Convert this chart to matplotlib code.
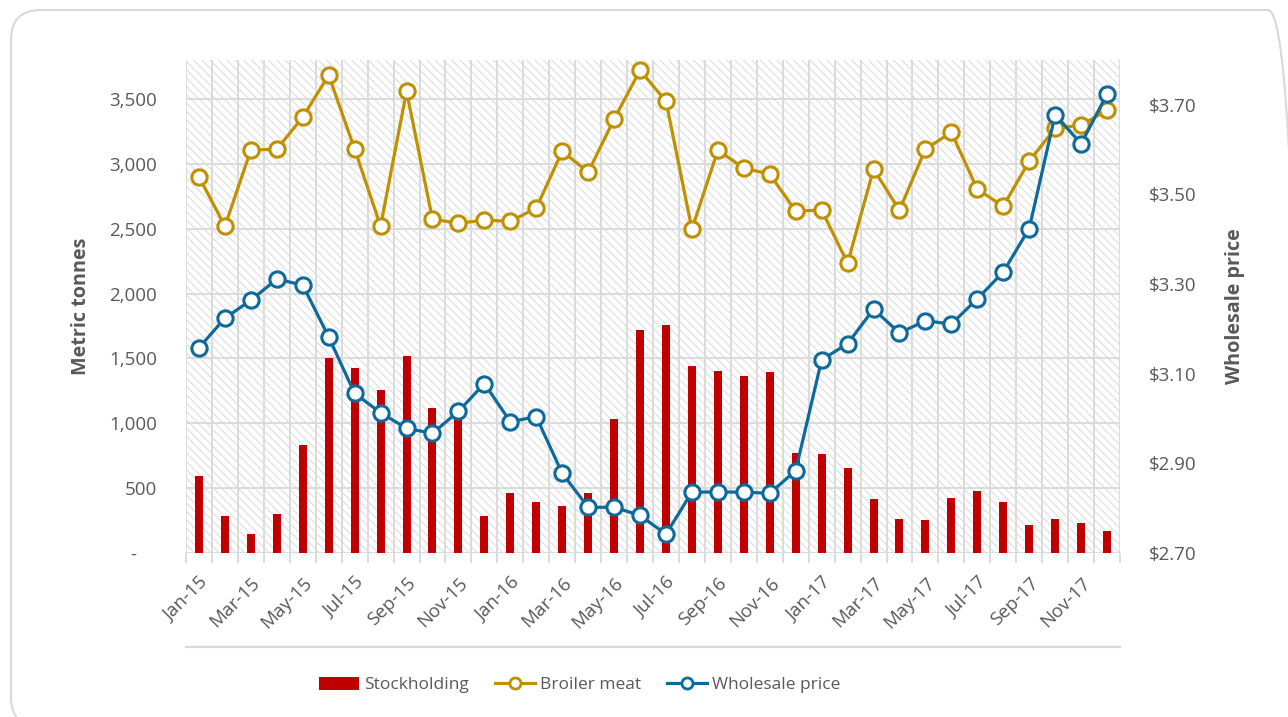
import matplotlib
matplotlib.use("Agg")
import matplotlib.pyplot as plt
import numpy as np
from matplotlib.patches import Rectangle, FancyBboxPatch, Patch
from matplotlib.lines import Line2D
from matplotlib.ticker import FuncFormatter, FixedLocator
from matplotlib.transforms import IdentityTransform

months = ["Jan-15", "Feb-15", "Mar-15", "Apr-15", "May-15", "Jun-15", "Jul-15", "Aug-15", "Sep-15", "Oct-15", "Nov-15", "Dec-15",
          "Jan-16", "Feb-16", "Mar-16", "Apr-16", "May-16", "Jun-16", "Jul-16", "Aug-16", "Sep-16", "Oct-16", "Nov-16", "Dec-16",
          "Jan-17", "Feb-17", "Mar-17", "Apr-17", "May-17", "Jun-17", "Jul-17", "Aug-17", "Sep-17", "Oct-17", "Nov-17", "Dec-17"]

stockholding = [590, 285, 144, 303, 832, 1500, 1423, 1253, 1518, 1120, 1080, 285,
                460, 393, 365, 460, 1032, 1718, 1754, 1441, 1405, 1364, 1392, 768,
                760, 653, 416, 260, 254, 424, 475, 395, 213, 260, 229, 172]

broiler_meat = [2900, 2519, 3105, 3113, 3359, 3683, 3113, 2519, 3559, 2573, 2542, 2565,
                2557, 2658, 3097, 2935, 3344, 3721, 3482, 2496, 3105, 2966, 2920, 2635,
                2643, 2234, 2958, 2643, 3113, 3243, 2804, 2673, 3020, 3274, 3297, 3413]

wholesale_price = [3.158, 3.224, 3.264, 3.311, 3.298, 3.182, 3.056, 3.013, 2.978, 2.967, 3.016, 3.078,
                   2.993, 3.004, 2.878, 2.802, 2.802, 2.784, 2.742, 2.836, 2.836, 2.836, 2.833, 2.884,
                   3.131, 3.167, 3.244, 3.191, 3.218, 3.211, 3.267, 3.327, 3.424, 3.678, 3.613, 3.724]

left_ticks = [0, 500, 1000, 1500, 2000, 2500, 3000, 3500]
right_ticks = [2.70, 2.90, 3.10, 3.30, 3.50, 3.70]

BAR_C = "#C00000"
GOLD = "#BF9000"
BLUE = "#0E6A9B"
GRID = "#D9D9D9"
TXT = "#595959"
FONT = "Open Sans"

plt.rcParams['font.family'] = [FONT, 'DejaVu Sans']
plt.rcParams['hatch.color'] = "#DADADA"
plt.rcParams['hatch.linewidth'] = 0.7

W, H = 1288, 717
fig = plt.figure(figsize=(W / 100, H / 100), dpi=100, facecolor="white")

# chart border (pixel coordinates, origin bottom-left)
bx0, bx1, by_top, by_bot = 11, 1298, 10, 727
border = FancyBboxPatch((bx0, H - by_bot), bx1 - bx0, by_bot - by_top,
                        boxstyle="round,pad=0,rounding_size=30",
                        transform=IdentityTransform(), facecolor="none", edgecolor="#D9D9D9",
                        linewidth=1.5, zorder=-5)
fig.add_artist(border)

left, right, top, bottom = 186, 1120, 60, 553
ax = fig.add_axes([left / W, 1 - bottom / H, (right - left) / W, (bottom - top) / H])
ax.set_facecolor("none")
ax.add_patch(Rectangle((0, 0), 1, 1, transform=ax.transAxes, facecolor="white",
                       edgecolor="#DADADA", hatch="\\\\\\\\", linewidth=0, zorder=0))

x = np.arange(len(months))
ax.bar(x, stockholding, width=0.31, color=BAR_C, zorder=3)
ax.set_xlim(-0.5, len(months) - 0.5)
ax.set_ylim(0, 3800)
ax.yaxis.set_major_locator(FixedLocator(left_ticks))
ax.yaxis.set_major_formatter(FuncFormatter(lambda v, p: "-    " if v == 0 else f"{int(v):,}"))
ax.grid(axis="y", color=GRID, linewidth=1.3, zorder=1)
ax.set_axisbelow(True)

ax.xaxis.set_major_locator(FixedLocator(x[::2]))
ax.set_xticklabels(months[::2], rotation=45, ha="right", rotation_mode="anchor")
ax.xaxis.set_minor_locator(FixedLocator(np.arange(-0.5, len(months), 1)))
ax.tick_params(axis="x", which="major", length=0, pad=15, labelsize=13.5, labelcolor=TXT)
ax.tick_params(axis="x", which="minor", length=7, color=GRID, width=1.3)
ax.grid(axis="x", which="minor", color=GRID, linewidth=1.3, zorder=1)
ax.tick_params(axis="y", length=0, pad=21, labelsize=13.5, labelcolor=TXT)
for s in ax.spines.values():
    s.set_visible(False)

ax.set_ylabel("Metric tonnes", fontsize=14.2, fontweight="bold", color=TXT, labelpad=13)

ax2 = ax.twinx()
ax2.plot(x, broiler_meat, color=GOLD, linewidth=2.3, marker="o", markersize=11,
         markerfacecolor="white", markeredgecolor=GOLD, markeredgewidth=2.2, zorder=4,
         transform=ax.transData)
ax2.plot(x, wholesale_price, color=BLUE, linewidth=2.3, marker="o", markersize=11,
         markerfacecolor="white", markeredgecolor=BLUE, markeredgewidth=2.2, zorder=5)
ax2.set_ylim(2.70, 3.80)
ax2.yaxis.set_major_locator(FixedLocator(right_ticks))
ax2.yaxis.set_major_formatter(FuncFormatter(lambda v, p: f"${v:.2f}"))
ax2.tick_params(axis="y", length=0, pad=21, labelsize=13.5, labelcolor=TXT)
for s in ax2.spines.values():
    s.set_visible(False)
ax2.set_ylabel("Wholesale price", fontsize=14.2, fontweight="bold", color=TXT, labelpad=20)

# horizontal rule below labels
fig.add_artist(Line2D([left / W, right / W], [1 - 647 / H, 1 - 647 / H],
                      transform=fig.transFigure, color=GRID, linewidth=1.6))

handles = [Patch(facecolor=BAR_C, edgecolor="none"),
           Line2D([0], [0], color=GOLD, linewidth=2.3, marker="o", markersize=8,
                  markerfacecolor="white", markeredgecolor=GOLD, markeredgewidth=2),
           Line2D([0], [0], color=BLUE, linewidth=2.3, marker="o", markersize=8,
                  markerfacecolor="white", markeredgecolor=BLUE, markeredgewidth=2)]
leg = fig.legend(handles, ["Stockholding", "Broiler meat", "Wholesale price"],
                 loc="center", bbox_to_anchor=(580 / W, 1 - 685 / H), ncol=3,
                 frameon=False, fontsize=12.5, handlelength=2.3, handleheight=0.8,
                 columnspacing=1.5, handletextpad=0.3, labelcolor=TXT)

fig.savefig("out.png", dpi=100)
